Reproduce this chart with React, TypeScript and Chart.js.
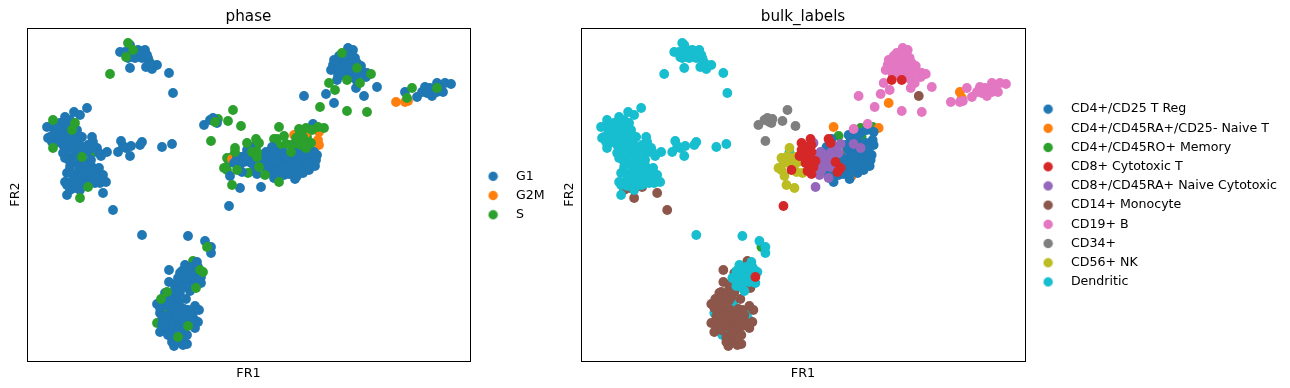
import React, { useEffect, useRef } from "react";
import { Chart, registerables } from "chart.js";

Chart.register(...registerables);

// A cell is [FR1, FR2, phase, bulk label].
// phase: 0 G1, 1 G2M, 2 S, 3 S drawn above the others
// label: index in bulkLabels, 10 = Dendritic drawn above the others
type Cell = [number, number, number, number];

const phaseNames = ["G1", "G2M", "S"];
const phaseColors = ["#1f77b4", "#ff7f0e", "#2ca02c"];
const bulkLabels = [
  "CD4+/CD25 T Reg",
  "CD4+/CD45RA+/CD25- Naive T",
  "CD4+/CD45RO+ Memory",
  "CD8+ Cytotoxic T",
  "CD8+/CD45RA+ Naive Cytotoxic",
  "CD14+ Monocyte",
  "CD19+ B",
  "CD34+",
  "CD56+ NK",
  "Dendritic",
];
const bulkColors = ["#1f77b4", "#ff7f0e", "#2ca02c", "#d62728", "#9467bd", "#8c564b", "#e377c2", "#7f7f7f", "#bcbd22", "#17becf"];

const topGroup: Cell[] = [
  [93,309,0,9],[98,309,0,9],[101,318,2,9],[103,316,0,9],[106,311,2,9],[111,311,0,9],[118,311,0,9],[113,306,0,9],[106,304,0,9],[101,303,0,9],[99,304,2,9],[108,303,0,9],[115,303,0,9],[121,303,0,9],[122,300,3,9],[119,294,0,9],[125,292,0,9],[130,296,0,9],[103,293,0,9],[83,287,2,9],[142,288,0,9],[146,268,0,9],[110,307,0,9],[117,306,0,9],[113,310,0,9],[120,306,0,9],[124,297,0,9],
];
const leftGroup: Cell[] = [
  [60,253,0,9],[47,249,0,9],[53,246,0,9],[38,244,0,9],[43,241,0,9],[33,238,0,9],[26,237,0,9],[20,234,0,9],[26,233,0,9],[33,231,0,9],[40,234,0,9],[46,236,0,9],[50,231,0,9],[51,226,0,9],[43,228,0,9],[36,226,0,9],[30,226,0,9],[23,224,0,9],[21,223,0,9],[25,219,0,9],[31,219,0,9],[38,221,0,9],[43,219,0,9],[48,224,0,9],[55,224,0,9],[65,224,0,9],[66,219,0,9],[61,216,0,9],[56,213,0,9],[50,214,3,9],[43,213,0,9],[36,208,0,9],[41,204,0,9],[48,206,0,9],[55,204,2,9],[60,209,0,9],[65,213,0,9],[70,213,0,9],[67,209,3,9],[74,205,0,9],[80,209,0,9],[38,203,0,9],[43,199,0,9],[43,194,0,9],[40,188,0,9],[50,198,0,9],[55,194,0,9],[60,194,3,9],[65,194,0,9],[72,193,0,9],[68,188,0,9],[76,186,0,9],[61,186,0,9],[56,186,0,9],[51,184,0,9],[46,181,0,9],[38,179,0,9],[43,178,0,9],[50,178,0,9],[56,181,0,9],[63,181,0,9],[61,176,0,9],[68,178,0,9],[73,178,0,9],[79,179,0,9],[43,171,0,5],[40,166,0,9],[48,173,0,5],[53,171,0,9],[53,163,2,5],[61,174,2,5],[76,168,0,5],[86,151,0,5],[26,241,2,9],[48,238,2,9],[26,213,2,9],[36,222,3,9],[40,216,3,9],[45,231,2,9],
];
const leftFillGroup: Cell[] = [
  [29,232,0,9],[36,233,0,9],[40,228,0,9],[46,229,0,9],[28,228,0,9],[33,222,0,9],[42,224,0,9],[48,220,0,9],[52,219,0,9],[36,216,0,9],[45,214,0,9],[50,208,0,9],[53,210,0,9],[62,212,0,9],[72,208,0,9],[57,199,0,9],[47,202,0,9],[52,191,0,9],[64,201,0,9],[58,190,0,9],[65,185,0,9],[70,183,0,9],[75,181,0,9],[53,178,0,9],[46,175,0,9],[40,176,0,9],[47,185,0,9],[44,188,0,9],[58,176,0,9],[64,178,0,9],[28,236,0,9],[37,239,0,9],[42,236,0,9],[47,232,0,9],[30,235,0,9],
];
const middleGroup: Cell[] = [
  [94,220,0,9],[91,209,0,9],[96,215,0,9],[99,213,0,9],[104,215,0,9],[103,205,0,9],[115,219,0,9],[113,216,0,9],[135,214,0,9],[145,217,0,9],
];
const progenitorGroup: Cell[] = [
  [177,236,0,7],[183,241,0,7],[186,243,0,7],[188,239,2,7],[190,238,0,7],[191,242,3,7],[201,240,2,7],[206,251,2,7],[214,235,2,7],[184,220,2,7],
];
const nkGroup: Cell[] = [
  [205,176,2,8],[213,173,0,8],[208,213,3,8],[205,202,1,8],[205,204,3,8],[200,203,3,8],[202,198,3,8],[197,193,3,8],[200,191,3,8],[203,185,0,8],[210,203,0,8],[214,204,0,8],[217,199,0,8],[212,194,0,8],[215,189,0,8],[221,188,3,8],[207,198,0,8],[208,209,2,10],
];
const cytotoxicGroup: Cell[] = [
  [202,155,0,3],[220,218,2,3],[229,222,3,3],[230,216,3,3],[222,211,0,3],[220,211,0,3],[225,209,2,3],[230,209,2,3],[222,204,0,3],[229,203,3,3],[224,198,0,3],[232,194,2,3],[229,193,0,3],[230,187,0,3],[210,191,2,3],[247,222,3,3],[249,218,3,3],[254,199,0,3],[259,193,0,3],[256,189,0,3],[225,214,3,3],[234,200,0,3],[226,190,3,3],[218,205,0,3],
];
const naiveCytotoxicGroup: Cell[] = [
  [234,174,0,4],[232,218,2,4],[230,204,2,4],[239,209,0,4],[244,201,0,4],[240,208,0,4],[242,194,0,4],[249,208,0,4],[252,215,3,4],[257,208,0,4],[259,217,3,4],[272,217,2,4],[279,213,2,4],[247,183,0,4],[240,191,0,4],[249,194,0,4],[250,203,0,4],[245,205,0,4],[240,203,3,4],[235,206,0,4],[236,194,3,4],[244,196,0,4],[252,204,3,4],[238,186,2,4],
];
const tRegGroup: Cell[] = [
  [223,214,0,0],[250,222,2,0],[267,226,1,0],[269,223,2,0],[273,228,2,0],[279,228,1,0],[285,231,2,0],[292,229,1,0],[291,221,1,0],[292,216,1,0],[264,216,3,0],[245,214,0,0],[249,209,0,0],[269,208,0,0],[264,201,0,0],[269,203,0,0],[274,206,0,0],[279,204,0,0],[284,198,0,0],[289,201,0,0],[290,206,0,0],[282,191,0,0],[285,198,0,0],[275,198,0,0],[262,194,0,0],[252,188,0,0],[257,186,0,0],[265,188,0,0],[245,188,0,0],[252,179,2,0],[260,199,0,0],[272,194,0,0],[277,216,0,0],[277,195,1,0],
  [255,205,0,0],[260,204,0,0],[265,196,0,0],[270,198,0,0],[280,199,0,0],[283,202,0,0],[288,195,0,0],[276,188,0,0],[270,190,3,0],[258,192,0,0],[250,190,0,0],[262,187,0,0],[268,182,0,0],[279,192,0,0],[275,210,3,0],[282,212,3,0],[287,209,0,0],[266,212,3,0],[271,220,0,0],[284,218,2,0],[276,224,2,0],[271,205,3,0],
];
const otherTGroup: Cell[] = [
  [270,185,0,1],[264,209,2,1],[252,234,2,1],[297,233,2,1],[257,225,2,2],[279,233,2,2],[291,234,2,2],[280,224,3,2],[279,216,2,2],[283,207,0,2],[262,191,3,2],[249,199,0,2],[237,199,0,2],[269,213,3,2],[263,193,3,2],[266,187,3,2],[272,232,2,6],[286,237,0,6],
];
const bCellUpperGroup: Cell[] = [
  [321,313,0,6],[326,311,0,6],[315,308,2,6],[320,308,0,6],[313,301,0,6],[306,296,0,6],[304,291,0,6],[310,291,0,6],[315,298,0,6],[321,301,0,6],[328,303,0,6],[323,294,0,6],[316,291,0,6],[311,286,0,6],[334,295,0,6],[330,293,2,6],[336,289,3,6],[340,288,0,6],[344,287,2,6],[339,284,0,6],[330,280,0,6],[333,278,2,6],[320,281,2,3],[310,281,0,3],[302,278,2,6],[308,271,2,6],[329,273,0,6],[350,274,0,6],[277,265,0,6],[299,267,0,6],[337,265,0,5],[307,258,0,1],[293,254,2,6],[320,250,2,6],[340,249,2,6],
  [318,306,0,6],[323,305,0,6],[317,303,0,6],[309,296,0,6],[312,295,0,6],[318,295,0,6],[325,298,0,6],[330,298,0,6],[328,290,0,6],[322,288,0,6],[315,286,0,6],[320,292,0,6],[333,288,0,6],[327,283,0,6],[307,301,0,6],[312,305,0,6],
];
const bCellRightGroup: Cell[] = [
  [378,269,0,1],[385,273,2,6],[380,263,2,1],[369,259,1,6],[378,259,1,6],[381,260,1,6],[390,264,0,6],[395,269,0,6],[398,274,0,6],[400,268,0,6],[405,265,0,6],[406,271,0,6],[410,278,0,6],[410,273,2,6],[411,273,0,6],[416,269,0,6],[418,278,0,6],[424,277,0,6],[403,273,0,6],[410,269,0,6],
];
const monocyteGroup: Cell[] = [
  [115,126,0,9],[161,125,0,9],[178,120,0,9],[180,114,2,2],[184,114,0,9],[184,108,0,9],[142,91,0,5],[166,100,3,5],[158,96,0,9],[170,99,0,9],[173,91,2,9],[176,89,2,9],[165,89,3,5],[153,88,0,5],[156,84,0,5],[161,88,0,5],[170,84,0,9],[174,84,0,3],[155,79,0,9],[161,79,0,9],[168,79,0,9],[142,79,0,5],[169,73,2,5],[163,70,0,9],[148,73,0,5],[140,69,2,5],[138,68,0,5],[153,69,0,5],[159,62,0,5],[134,62,2,5],[141,63,0,5],[130,57,0,5],[148,61,0,5],[138,56,0,10],[152,58,0,10],[168,55,0,5],[172,51,0,5],[161,51,0,5],[167,50,0,10],[133,48,0,10],[139,50,3,5],[145,51,0,10],[148,52,0,5],[153,48,0,5],[160,44,0,5],[171,39,0,5],[167,42,0,10],[130,38,3,5],[136,41,0,5],[143,41,0,5],[151,39,0,5],[161,35,2,5],[168,33,0,5],[133,29,0,5],[140,31,0,5],[144,29,0,10],[148,34,0,5],[156,31,0,5],[160,26,0,5],[151,24,2,5],[145,19,0,5],[147,15,0,5],[153,19,0,5],[156,16,0,5],[160,17,0,5],[150,21,0,5],[141,26,0,10],[153,28,0,5],
];
const monocyteFillGroup: Cell[] = [
  [155,90,0,9],[160,92,0,9],[165,94,0,9],[151,83,0,9],[160,84,0,9],[165,84,0,9],[150,78,0,5],[174,78,0,9],[160,74,0,9],[155,75,0,9],[166,92,0,9],[171,94,0,9],
  [146,66,0,5],[150,64,0,5],[143,60,0,5],[136,58,0,5],[133,53,0,5],[142,55,0,5],[146,46,0,5],[140,45,0,5],[135,36,0,5],[139,36,0,5],[146,37,0,5],[150,44,0,5],[156,42,0,5],[157,52,0,5],[163,46,0,5],[165,38,0,5],[157,36,0,5],[152,33,0,5],[145,24,0,5],[155,24,0,5],[150,28,0,5],[135,45,0,5],
];

const cells: Cell[] = [
  ...topGroup, ...leftGroup, ...leftFillGroup, ...middleGroup, ...progenitorGroup, ...nkGroup, ...cytotoxicGroup,
  ...naiveCytotoxicGroup, ...tRegGroup, ...otherTGroup, ...bCellUpperGroup, ...bCellRightGroup, ...monocyteGroup, ...monocyteFillGroup,
];

const phaseLayers = [
  { name: "S", code: 2, color: 2 },
  { name: "G1", code: 0, color: 0 },
  { name: "G2M", code: 1, color: 1 },
  { name: "S", code: 3, color: 2 },
];
const bulkLayerOrder = [3, 4, 9, 5, 7, 6, 8, 0, 1, 2, 10];

function dot(color: string) {
  const c = document.createElement("canvas");
  c.width = 11;
  c.height = 11;
  const ctx = c.getContext("2d")!;
  ctx.fillStyle = color;
  ctx.beginPath();
  ctx.arc(5.5, 5.5, 4.7, 0, Math.PI * 2);
  ctx.fill();
  return c;
}

const framePlugin = {
  id: "frame",
  afterDatasetsDraw(chart: any) {
    const { ctx, chartArea: a } = chart;
    ctx.save();
    ctx.strokeStyle = "#000";
    ctx.lineWidth = 1;
    ctx.strokeRect(a.left + 0.5, a.top + 0.5, a.right - a.left, a.bottom - a.top);
    ctx.restore();
  },
};

const FONT = "'DejaVu Sans'";

function makeChart(
  canvas: HTMLCanvasElement,
  title: string,
  names: string[],
  colors: string[],
  datasets: any[],
  frame: { left: number; right: number; top: number; bottom: number }
) {
  const padding = { left: 0, right: 0, top: 0, bottom: 0 };
  const chart = new Chart(canvas, {
    type: "scatter",
    data: { datasets },
    plugins: [framePlugin],
    options: {
      animation: false,
      responsive: false,
      devicePixelRatio: 1,
      layout: { padding },
      elements: { point: { radius: 4.9, borderWidth: 0, hoverRadius: 4.9 } },
      plugins: {
        tooltip: { enabled: false },
        title: {
          display: true,
          text: title,
          fullSize: false,
          color: "#000",
          font: { family: FONT, size: 15.2, weight: "normal" },
          padding: { top: 0, bottom: 2 },
        },
        legend: {
          position: "right",
          maxWidth: 400,
          labels: {
            color: "#000",
            font: { family: FONT, size: 12.6 },
            usePointStyle: true,
            pointStyleWidth: 33,
            padding: 6.6,
            generateLabels: () =>
              names.map((text, i) => ({
                text,
                fontColor: "#000",
                pointStyle: dot(colors[i]),
                fillStyle: colors[i],
                strokeStyle: colors[i],
                lineWidth: 0,
                hidden: false,
                datasetIndex: i,
              })) as any,
          },
        },
      },
      scales: {
        x: {
          type: "linear",
          min: 0,
          max: 443,
          grid: { display: false, drawTicks: false },
          border: { display: false },
          ticks: { display: false },
          title: { display: true, text: "FR1", color: "#000", font: { family: FONT, size: 12.8 }, padding: { top: 5, bottom: 2 } },
        },
        y: {
          type: "linear",
          min: 0,
          max: 333,
          grid: { display: false, drawTicks: false },
          border: { display: false },
          ticks: { display: false },
          title: { display: true, text: "FR2", color: "#000", font: { family: FONT, size: 12.8 }, padding: { top: 0, bottom: 4 } },
        },
      },
    } as any,
  });
  // Settle the paddings so that the axes box sits where the reference has it.
  for (let i = 0; i < 3; i++) {
    const a = chart.chartArea;
    padding.left += frame.left - a.left;
    padding.right += a.right - frame.right;
    padding.top += frame.top - a.top;
    padding.bottom += a.bottom - frame.bottom;
    (chart.options as any).layout.padding = { ...padding };
    chart.update();
  }
  return chart;
}

const toPoints = (list: Cell[]) => list.map((c) => ({ x: c[0], y: c[1] }));

export default function App() {
  const leftRef = useRef<HTMLCanvasElement>(null);
  const rightRef = useRef<HTMLCanvasElement>(null);

  useEffect(() => {
    const phaseSets = phaseLayers.map((l) => ({
      label: l.name,
      data: toPoints(cells.filter((c) => c[2] === l.code)),
      backgroundColor: phaseColors[l.color],
    }));
    const bulkSets = bulkLayerOrder.map((code) => {
      const idx = code === 10 ? 9 : code;
      return {
        label: bulkLabels[idx],
        data: toPoints(cells.filter((c) => c[3] === code)),
        backgroundColor: bulkColors[idx],
      };
    });
    const a = makeChart(leftRef.current!, "phase", phaseNames, phaseColors, phaseSets, { left: 27, right: 470, top: 28, bottom: 361 });
    const b = makeChart(rightRef.current!, "bulk_labels", bulkLabels, bulkColors, bulkSets, { left: 26, right: 470, top: 28, bottom: 361 });
    return () => {
      a.destroy();
      b.destroy();
    };
  }, []);

  return (
    <div style={{ position: "fixed", left: 0, top: 0, width: 1290, height: 388, background: "#fff" }}>
      <canvas ref={leftRef} width={555} height={388} style={{ position: "absolute", left: 0, top: 0 }} />
      <canvas ref={rightRef} width={735} height={388} style={{ position: "absolute", left: 555, top: 0 }} />
    </div>
  );
}
